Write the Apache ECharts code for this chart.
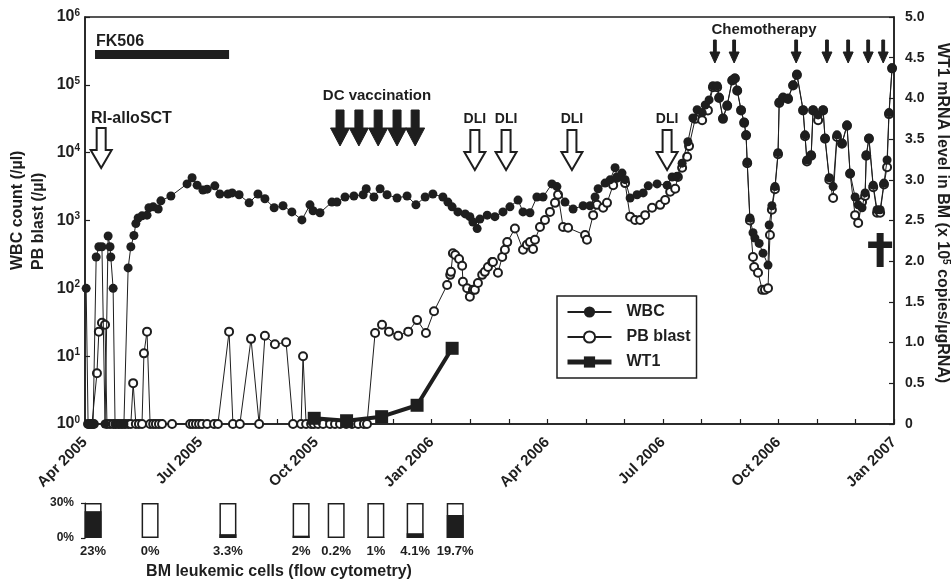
<!DOCTYPE html>
<html><head><meta charset="utf-8">
<script src="https://cdn.jsdelivr.net/npm/echarts@6/dist/echarts.min.js"></script>
<style>html,body{margin:0;padding:0;background:#fff}#c{width:952px;height:579px}</style>
</head><body><div id="c"></div>
<script>
// x values: months since 1 Apr 2005
const monthLabels = ['Apr 2005','Jul 2005','Oct 2005','Jan 2006','Apr 2006','Jul 2006','Oct 2006','Jan 2007'];
const wbcMonths = [0.03,0.08,0.13,0.21,0.29,0.36,0.44,0.52,0.60,0.65,0.67,0.73,0.78,0.86,0.93,1.01,1.12,1.19,1.27,1.32,1.38,1.48,1.61,1.66,1.77,1.90,1.97,2.23,2.65,2.78,2.91,3.06,3.17,3.37,3.50,3.71,3.82,4.00,4.26,4.49,4.67,4.91,5.14,5.37,5.63,5.84,5.92,6.10,6.41,6.54,6.75,6.98,7.22,7.30,7.50,7.66,7.84,8.10,8.36,8.59,8.83,9.03,9.29,9.42,9.53,9.68,9.87,9.99,10.07,10.18,10.25,10.44,10.64,10.85,11.03,11.24,11.37,11.55,11.73,11.89,12.12,12.25,12.46,12.67,12.93,13.11,13.24,13.32,13.50,13.63,13.76,13.81,13.94,14.02,14.15,14.33,14.49,14.62,14.85,15.11,15.24,15.37,15.50,15.65,15.78,15.89,16.02,16.10,16.20,16.30,16.41,16.46,16.56,16.67,16.80,16.87,16.93,17.03,17.11,17.16,17.19,17.26,17.34,17.39,17.50,17.60,17.73,17.76,17.83,17.91,17.99,18.02,18.12,18.25,18.38,18.48,18.64,18.69,18.74,18.85,18.90,19.03,19.16,19.21,19.32,19.42,19.52,19.65,19.78,19.86,19.99,20.07,20.17,20.25,20.28,20.35,20.46,20.56,20.64,20.74,20.82,20.87,20.95];
const wbcValues = [100,1,1,1,290,410,410,1,590,410,290,100,1,1,1,1,200,410,600,900,1090,1170,1200,1540,1590,1480,1950,2300,3460,4260,3320,2820,2900,3240,2460,2460,2550,2400,1820,2460,2090,1540,1650,1340,1020,1700,1390,1300,1870,1870,2220,2300,2400,2940,2220,2940,2400,2150,2300,1700,2220,2460,2220,1870,1590,1340,1250,1140,950,760,1050,1200,1140,1340,1590,2000,1340,1300,2220,2220,3460,3160,1870,1480,1650,1650,2220,2940,3560,3980,6000,4380,5000,4000,2150,2400,2550,3240,3460,3320,4380,4500,7000,14500,32500,43000,39000,50500,60000,97000,97000,66000,32500,50500,118000,126000,84000,43000,28400,18300,7300,1090,660,550,460,330,220,860,1650,3160,10000,56000,66000,64000,100000,145000,43000,18300,7800,9300,43000,36000,43000,16500,4260,3160,18300,13900,25700,5000,2220,1700,1540,2550,9300,16500,3320,1440,1440,3560,7800,39000,178000];
const blastMonths = [0.08,0.13,0.18,0.23,0.31,0.36,0.44,0.52,0.57,0.65,0.73,0.80,0.88,0.96,1.04,1.12,1.19,1.25,1.32,1.40,1.48,1.53,1.61,1.69,1.77,1.84,1.92,2.00,2.26,2.73,2.80,2.88,2.96,3.04,3.17,3.35,3.45,3.74,3.84,4.02,4.31,4.52,4.67,4.93,5.22,5.40,5.61,5.66,5.74,5.87,5.94,6.05,6.18,6.36,6.49,6.62,6.78,6.93,7.09,7.24,7.32,7.53,7.71,7.89,8.13,8.39,8.62,8.85,9.06,9.40,9.48,9.50,9.55,9.61,9.71,9.79,9.81,9.92,9.99,10.07,10.12,10.20,10.31,10.38,10.46,10.57,10.59,10.72,10.83,10.90,10.96,11.16,11.37,11.47,11.55,11.63,11.68,11.81,11.94,12.07,12.20,12.28,12.41,12.54,12.98,13.03,13.19,13.29,13.45,13.55,13.71,13.81,14.02,14.15,14.28,14.41,14.54,14.72,14.93,15.06,15.19,15.32,15.39,15.50,15.63,15.68,15.84,16.02,16.17,16.30,16.41,16.46,16.56,16.67,16.80,16.87,16.93,17.03,17.11,17.16,17.19,17.26,17.34,17.37,17.47,17.58,17.65,17.73,17.78,17.83,17.91,17.99,18.02,18.12,18.25,18.38,18.48,18.64,18.69,18.74,18.85,18.90,19.03,19.16,19.21,19.32,19.42,19.52,19.65,19.78,19.86,19.99,20.07,20.17,20.25,20.28,20.35,20.46,20.56,20.64,20.74,20.82,20.87,20.95];
const blastValues = [1,1,1,1,5.6,23,31,29,1,1,1,1,1,1,1,1,1,4,1,1,1,11,23,1,1,1,1,1,1,1,1,1,1,1,1,1,1,23,1,1,18,1,20,15,16,1,1,10,1,1,1,1,1,1,1,1,1,1,1,1,1,22,29,23,20,23,34,22,46,112,158,175,330,310,270,215,125,100,75,95,95,120,158,175,206,245,245,170,290,370,480,760,370,440,480,380,520,800,1020,1340,1820,2400,800,780,610,520,1200,1700,1540,1820,3320,4260,3560,1140,1020,1020,1200,1540,1700,2000,2650,2940,4380,6000,8700,12500,31500,30000,42000,92000,92000,64000,31500,49000,116000,124000,82000,42000,27500,18000,7000,1000,290,206,170,95,95,100,610,1440,2900,9500,54000,64000,62000,98000,140000,42000,17500,7400,9000,42000,30000,42000,16000,4000,2150,17000,13500,25000,4900,1200,920,1870,2300,9000,16000,3100,1300,1300,3400,6100,37000,175000];
const wt1Months = [5.95,6.79,7.70,8.62,9.53];
const wt1Values = [0.07,0.04,0.09,0.23,0.93];
const bmMonths = [0.21,1.69,3.71,5.61,6.52,7.55,8.57,9.61];
const bmPercent = [23,0,3.3,2,0.2,1,4.1,19.7];
const sctMonths = [0.42];
const fk506Range = [0.26,3.74];
const dcVaccMonths = [6.62,7.11,7.61,8.10,8.57];
const dliMonths = [10.12,10.93,12.64,15.11];
const chemoMonths = [16.35,16.85,18.46,19.26,19.81,20.33,20.72];
const deathMonths = [20.64];

const FF = '"Liberation Sans", Arial, sans-serif';
const INK = '#1e1e1e';
const pair = (xs, ys) => xs.map((x, i) => [x, ys[i]]);

function arrowSeries(months, o) {
  return {
    type: 'custom', xAxisIndex: 0, yAxisIndex: 0, silent: true, clip: false, z: 6,
    data: months.map(m => [m, 1]),
    renderItem: (params, api) => {
      const cx = api.coord([api.value(0), 1])[0];
      const pts = [[cx-o.sw,o.y0],[cx+o.sw,o.y0],[cx+o.sw,o.yh],[cx+o.hw,o.yh],[cx,o.y1],[cx-o.hw,o.yh],[cx-o.sw,o.yh]];
      const ch = [{type:'polygon', shape:{points:pts}, style:{fill:o.fill, stroke:o.stroke, lineWidth:o.lw, lineJoin:'miter'}}];
      if (o.label) ch.push({type:'text', style:{text:o.label, x:cx, y:o.labelY, align:'center', verticalAlign:'middle', font:'bold 14px '+FF, fill:INK}});
      return {type:'group', children: ch};
    }
  };
}

const chart = echarts.init(document.getElementById('c'), null, {renderer:'canvas'});
const option = {
  animation: false,
  backgroundColor: '#fff',
  grid: [
    {left:85, right:58, top:17, bottom:155, show:true, borderColor:INK, borderWidth:1.5},
    {left:85, right:58, top:503, height:35}
  ],
  xAxis: [
    {type:'value', gridIndex:0, min:0, max:21, interval:1,
     axisLine:{lineStyle:{color:INK, width:1.5}},
     axisTick:{inside:true, length:5, lineStyle:{color:INK, width:1.2}},
     splitLine:{show:false},
     axisLabel:{interval:0, rotate:45, margin:16, color:INK, fontFamily:FF, fontWeight:'bold', fontSize:15,
       formatter: v => { const i = Math.round(v); return i % 3 === 0 ? monthLabels[i/3] : ''; }}},
    {type:'value', gridIndex:1, min:0, max:21, show:false}
  ],
  yAxis: [
    {type:'log', logBase:10, gridIndex:0, min:1, max:1e6, interval:1, position:'left',
     axisLine:{show:true, lineStyle:{color:INK, width:1.5}},
     axisTick:{inside:true, length:5, lineStyle:{color:INK, width:1.2}},
     splitLine:{show:false}, minorTick:{show:false},
     axisLabel:{margin:5, color:INK, fontFamily:FF, fontWeight:'bold', fontSize:16,
       formatter: v => '10{s|' + Math.round(Math.log10(v)) + '}',
       rich:{s:{fontSize:10, fontWeight:'bold', fontFamily:FF, color:INK, verticalAlign:'top', lineHeight:18}}}},
    {type:'value', gridIndex:0, min:0, max:5, interval:0.5, position:'right',
     axisLine:{show:true, lineStyle:{color:INK, width:1.5}},
     axisTick:{inside:true, length:5, lineStyle:{color:INK, width:1.2}},
     splitLine:{show:false},
     axisLabel:{margin:11, color:INK, fontFamily:FF, fontWeight:'bold', fontSize:14,
       formatter: v => v === 0 ? '0' : v.toFixed(1)}},
    {type:'value', gridIndex:1, min:0, max:30, interval:30, position:'left', offset:8,
     axisLine:{show:true, lineStyle:{color:INK, width:1.2}},
     axisTick:{show:true, length:4, lineStyle:{color:INK, width:1.2}},
     splitLine:{show:false},
     axisLabel:{margin:3, color:INK, fontFamily:FF, fontWeight:'bold', fontSize:12, formatter: v => v + '%'}}
  ],
  legend: {
    data:['WBC','PB blast',{name:'WT1', lineStyle:{width:5}}], orient:'vertical', left:557, top:296,
    padding:[8,6,8,8], borderColor:INK, borderWidth:1.5, backgroundColor:'#fff',
    itemWidth:44, itemHeight:14, itemGap:9, selectedMode:false,
    textStyle:{color:INK, fontFamily:FF, fontWeight:'bold', fontSize:16, padding:[0,0,0,10]}
  },
  series: [
    {name:'PB blast', type:'line', xAxisIndex:0, yAxisIndex:0, data:pair(blastMonths, blastValues),
     symbol:'emptyCircle', symbolSize:8, z:3,
     itemStyle:{color:INK, borderColor:INK, borderWidth:1.2},
     lineStyle:{color:INK, width:1}},
    {name:'WBC', type:'line', xAxisIndex:0, yAxisIndex:0, data:pair(wbcMonths, wbcValues),
     symbol:'circle', symbolSize:9, z:4,
     itemStyle:{color:INK},
     lineStyle:{color:INK, width:1}},
    {name:'WT1', type:'line', xAxisIndex:0, yAxisIndex:1, data:pair(wt1Months, wt1Values),
     symbol:'rect', symbolSize:13, z:5,
     itemStyle:{color:INK},
     lineStyle:{color:INK, width:4}},
    {type:'bar', xAxisIndex:1, yAxisIndex:2, data:bmMonths.map(m => [m, 30]), barWidth:17, barGap:'-100%',
     itemStyle:{color:'#fff', borderColor:INK, borderWidth:1.5}, silent:true},
    {type:'bar', xAxisIndex:1, yAxisIndex:2, data:pair(bmMonths, bmPercent), barWidth:17, barGap:'-100%',
     itemStyle:{color:INK}, silent:true,
     label:{show:true, position:'bottom', distance:7, color:INK, fontFamily:FF, fontWeight:'bold', fontSize:13,
       formatter: p => bmPercent[p.dataIndex] + '%'}},
    // FK506 bar
    {type:'custom', xAxisIndex:0, yAxisIndex:0, silent:true, clip:false, z:6,
     data:[[fk506Range[0], 1, fk506Range[1]]],
     renderItem:(params, api) => {
       const x0 = api.coord([api.value(0), 1])[0], x1 = api.coord([api.value(2), 1])[0];
       return {type:'rect', shape:{x:x0, y:50, width:x1-x0, height:9}, style:{fill:INK}};
     }},
    arrowSeries(sctMonths, {y0:128, yh:150, y1:168, sw:4.5, hw:10.5, fill:'#fff', stroke:INK, lw:2}),
    arrowSeries(dcVaccMonths, {y0:110, yh:128, y1:146, sw:4, hw:9.5, fill:INK, stroke:INK, lw:1}),
    arrowSeries(dliMonths, {y0:130, yh:152, y1:170, sw:4.5, hw:10.5, fill:'#fff', stroke:INK, lw:2, label:'DLI', labelY:119}),
    arrowSeries(chemoMonths, {y0:40, yh:52, y1:63, sw:1.4, hw:5, fill:INK, stroke:INK, lw:1}),
    // death cross
    {type:'custom', xAxisIndex:0, yAxisIndex:0, silent:true, clip:false, z:6,
     data: deathMonths.map(m => [m, 1]),
     renderItem:(params, api) => {
       const cx = api.coord([api.value(0), 1])[0];
       return {type:'group', children:[
         {type:'rect', shape:{x:cx-3.5, y:233, width:7, height:34}, style:{fill:INK}},
         {type:'rect', shape:{x:cx-12, y:241.5, width:24, height:6.5}, style:{fill:INK}}
       ]};
     }}
  ],
  graphic: [
    {type:'text', x:96, y:42, style:{text:'FK506', font:'bold 16px '+FF, fill:INK, align:'left', verticalAlign:'middle'}},
    {type:'text', x:91, y:119, style:{text:'RI-alloSCT', font:'bold 16px '+FF, fill:INK, align:'left', verticalAlign:'middle'}},
    {type:'text', x:377, y:96, style:{text:'DC vaccination', font:'bold 15px '+FF, fill:INK, align:'center', verticalAlign:'middle'}},
    {type:'text', x:764, y:30, style:{text:'Chemotherapy', font:'bold 15px '+FF, fill:INK, align:'center', verticalAlign:'middle'}},
    {type:'text', x:18, y:270, rotation:Math.PI/2, style:{text:'WBC count (/µl)', font:'bold 16px '+FF, fill:INK, align:'left', verticalAlign:'middle'}},
    {type:'text', x:39, y:270, rotation:Math.PI/2, style:{text:'PB blast (/µl)', font:'bold 16px '+FF, fill:INK, align:'left', verticalAlign:'middle'}},
    {type:'text', x:942, y:43, rotation:-Math.PI/2, style:{text:'WT1 mRNA level in BM (x 10{s|5} copies/µgRNA)', font:'bold 16px '+FF, fill:INK, align:'left', verticalAlign:'middle',
       rich:{s:{fontSize:10, fontWeight:'bold', fontFamily:FF, fill:INK, verticalAlign:'top', lineHeight:18}}}},
    {type:'text', x:279, y:572, style:{text:'BM leukemic cells (flow cytometry)', font:'bold 16px '+FF, fill:INK, align:'center', verticalAlign:'middle'}}
  ]
};
chart.setOption(option);
</script></body></html>
